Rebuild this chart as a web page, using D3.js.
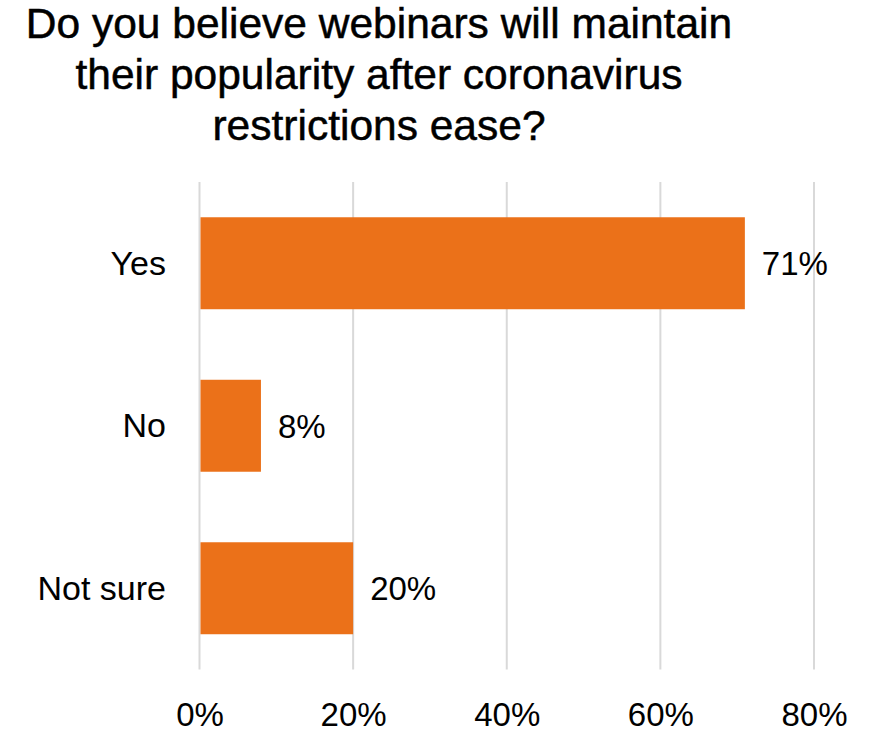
<!DOCTYPE html>
<html>
<head>
<meta charset="utf-8">
<script src="https://cdn.jsdelivr.net/npm/d3@7"></script>
<style>
  html, body { margin: 0; padding: 0; background: #ffffff; }
  svg { display: block; }
  text { font-family: "Liberation Sans", Arial, Helvetica, sans-serif; fill: #000; }
</style>
</head>
<body>
<script>
// Survey answers and their shares (percent)
const categories = ["Yes", "No", "Not sure"];
const shares = [71, 8, 20];
const tickValues = [0, 20, 40, 60, 80];
const titleLines = [
  "Do you believe webinars will maintain",
  "their popularity after coronavirus",
  "restrictions ease?"
];

const width = 870, height = 731;
const svg = d3.select("body").append("svg")
  .attr("width", width).attr("height", height);

const plot = { left: 199.5, right: 814, top: 182, bottom: 669.5 };

const x = d3.scaleLinear().domain([0, 80]).range([plot.left, plot.right]);
const y = d3.scaleBand().domain(categories)
  .range([plot.top, plot.bottom])
  .paddingInner(0.434).paddingOuter(0.217);

// Title (slightly heavier than regular weight)
svg.append("g").selectAll("text").data(titleLines).join("text")
  .attr("x", 379).attr("y", (d, i) => 38 + i * 51)
  .attr("text-anchor", "middle")
  .style("font-size", "42.5px")
  .attr("stroke", "#000").attr("stroke-width", 0.5)
  .text(d => d);

// Vertical gridlines
svg.append("g").selectAll("line").data(tickValues).join("line")
  .attr("x1", d => x(d)).attr("x2", d => x(d))
  .attr("y1", plot.top).attr("y2", plot.bottom)
  .attr("stroke", "#d9d9d9").attr("stroke-width", 2);

// Bars
const rows = categories.map((c, i) => ({ c, v: shares[i] }));
svg.append("g").selectAll("rect").data(rows).join("rect")
  .attr("x", x(0) + 1).attr("y", d => y(d.c))
  .attr("width", d => x(d.v) - x(0) - 1)
  .attr("height", y.bandwidth())
  .attr("fill", "#eb7119");

// Value labels
svg.append("g").selectAll("text").data(rows).join("text")
  .attr("x", d => x(d.v) + 17)
  .attr("y", d => y(d.c) + y.bandwidth() / 2 + 12)
  .style("font-size", "33px")
  .text(d => d.v + "%");

// Category axis labels
svg.append("g").selectAll("text").data(categories).join("text")
  .attr("x", 166)
  .attr("y", d => y(d) + y.bandwidth() / 2 + 11.5)
  .attr("text-anchor", "end")
  .style("font-size", "34px")
  .text(d => d);

// Value axis tick labels
const xAxis = d3.axisBottom(x).tickValues(tickValues)
  .tickFormat(d => d + "%").tickSize(0).tickPadding(0);
const gx = svg.append("g").attr("transform", `translate(0, ${plot.bottom})`).call(xAxis);
gx.select(".domain").remove();
gx.selectAll("text")
  .attr("y", 56).attr("dy", null)
  .style("font-size", "33px")
  .style("font-family", "\"Liberation Sans\", Arial, sans-serif")
  .attr("fill", "#000");
</script>
</body>
</html>
